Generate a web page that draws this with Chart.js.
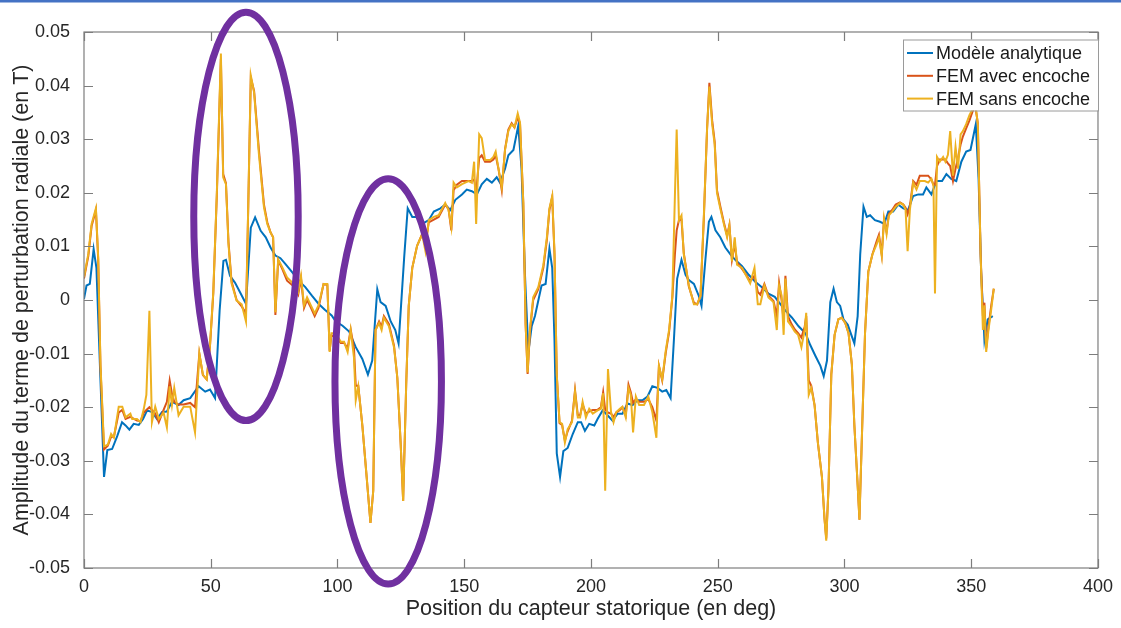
<!DOCTYPE html>
<html><head><meta charset="utf-8">
<script src="https://cdn.jsdelivr.net/npm/chart.js@4/dist/chart.umd.min.js"></script>
<style>html,body{margin:0;padding:0;background:#fff;}#wrap{width:1121px;height:628px;}</style>
</head><body><div id="wrap"><canvas id="c" width="1121" height="628"></canvas></div>
<script>
// ---------- data ----------
const seriesNames = ['Modèle analytique', 'FEM avec encoche', 'FEM sans encoche'];
const xTitle = 'Position du capteur statorique (en deg)';
const yTitle = 'Amplitude du terme de perturbation radiale (en T)';
const xTicks = [0, 50, 100, 150, 200, 250, 300, 350, 400];
const yTicks = [-0.05, -0.04, -0.03, -0.02, -0.01, 0, 0.01, 0.02, 0.03, 0.04, 0.05];
const yTickLabels = ['-0.05', '-0.04', '-0.03', '-0.02', '-0.01', '0', '0.01', '0.02', '0.03', '0.04', '0.05'];

const analytiqueDeg = [0, 1, 2.3, 3.8, 4.9, 6.5, 7.9, 9.2, 11.1, 13.1, 15, 16.4, 17.9, 19.6, 21.6, 23.3, 24.9, 26.8, 28.8, 30.8, 32.7, 34.7, 37.3, 39.3, 41.9, 45.2, 47.8, 49.7, 51.7, 53.5, 55, 56, 57.6, 59.6, 61.5, 63.9, 65.8, 67.5, 69.7, 71.7, 73.6, 75.5, 77.5, 79.5, 82.1, 84.7, 87.3, 89.9, 92.5, 95, 97.7, 99.3, 102, 104.6, 107.2, 109.8, 112, 113.7, 115.7, 117, 119, 121, 122.8, 124.1, 126.3, 127.7, 129.5, 131, 133.4, 136, 138, 140.6, 142.5, 144.5, 146.5, 149.1, 151, 153, 155, 156.9, 158.9, 160.9, 162.8, 164.1, 166.1, 167.4, 169.4, 171.3, 172.6, 173.9, 175.3, 176.6, 177.9, 180.5, 182.1, 183.6, 184.7, 185.6, 186.5, 187.8, 189.1, 190.8, 192.8, 194.8, 196.1, 197.6, 199.3, 201.3, 202.6, 204.6, 206.5, 208.5, 210.5, 212.4, 214.4, 216.4, 218.3, 220.3, 222.3, 224.2, 226.2, 228.1, 229.7, 231.4, 232.7, 234, 235.7, 237.3, 238.6, 240.6, 242.5, 243.6, 245.2, 246.5, 247.5, 249.1, 251, 253, 255, 256.9, 259.6, 262.2, 264.8, 267.4, 270, 272.5, 274.1, 276.7, 279.3, 281.9, 284.6, 286.5, 288.5, 290.5, 291.8, 293.1, 294.4, 295.7, 297, 298.3, 299.6, 301.3, 302.9, 303.9, 305.2, 306.2, 307.5, 308.8, 310.1, 312, 314, 315.7, 317.3, 319.2, 321.2, 323.2, 325.1, 327.1, 329.1, 331, 332.3, 334.3, 336.3, 338.5, 340.2, 342.1, 344.1, 346.1, 348, 349.7, 351.8, 352.9, 353.9, 355.2, 356.5, 358.5];
const analytiqueVal = [0.0002, 0.0027, 0.003, 0.0095, 0.006, -0.015, -0.033, -0.028, -0.0278, -0.0254, -0.0228, -0.0234, -0.0242, -0.0231, -0.0233, -0.0222, -0.0206, -0.0209, -0.0222, -0.0209, -0.0208, -0.019, -0.0196, -0.0187, -0.0183, -0.0161, -0.0171, -0.0167, -0.0183, -0.002, 0.0073, 0.0075, 0.0045, 0.0032, 0.0015, -0.0007, 0.0135, 0.0154, 0.0129, 0.0117, 0.0098, 0.0083, 0.0078, 0.0067, 0.0052, 0.0036, 0.0024, 0.0008, -0.0007, -0.0018, -0.0029, -0.004, -0.0048, -0.0059, -0.0088, -0.011, -0.0139, -0.0113, 0.002, -0.0004, -0.0011, -0.004, -0.0056, -0.0081, 0.0079, 0.0171, 0.0155, 0.0155, 0.0142, 0.0149, 0.0165, 0.0171, 0.0178, 0.0168, 0.0187, 0.0197, 0.0206, 0.0203, 0.0197, 0.0216, 0.0226, 0.0219, 0.0229, 0.0219, 0.0245, 0.027, 0.028, 0.0325, 0.0245, 0.0053, -0.0097, -0.0049, -0.003, 0.0027, 0.003, 0.0096, 0.006, -0.0075, -0.0286, -0.033, -0.0282, -0.0276, -0.025, -0.0228, -0.0228, -0.0244, -0.0231, -0.0234, -0.0222, -0.0206, -0.0215, -0.0225, -0.0212, -0.0212, -0.0193, -0.0196, -0.0187, -0.0187, -0.018, -0.0161, -0.0164, -0.0171, -0.0168, -0.0183, -0.0075, 0.004, 0.0075, 0.0047, 0.0037, 0.003, 0.0008, -0.0011, 0.0079, 0.0146, 0.0155, 0.013, 0.0117, 0.0098, 0.0085, 0.0075, 0.0063, 0.0047, 0.0034, 0.0024, 0.0012, 0.0006, -0.0004, -0.002, -0.0033, -0.0049, -0.0062, -0.0084, -0.0104, -0.0123, -0.0142, -0.0113, -0.0004, 0.0021, -0.0004, -0.0011, -0.0036, -0.0046, -0.0068, -0.0081, -0.003, 0.0085, 0.0174, 0.0155, 0.0158, 0.0149, 0.0146, 0.0142, 0.0165, 0.0165, 0.0178, 0.0171, 0.0168, 0.0194, 0.0197, 0.0197, 0.021, 0.0197, 0.0222, 0.0222, 0.0235, 0.0226, 0.0222, 0.0258, 0.0277, 0.028, 0.0328, 0.0226, 0.0053, -0.0075, -0.0036, -0.003];

const femDeg = [0, 1.7, 3.0, 3.7, 4.7, 5.6, 6.5, 7.9, 9.4, 10.7, 11.8, 13.7, 15.1, 16.4, 18.3, 19.0, 20.9, 22.3, 23.6, 24.6, 25.8, 26.8, 28.1, 29.5, 31.4, 32.7, 33.8, 34.7, 35.6, 37.3, 39.3, 41.9, 43.8, 45.5, 46.9, 48.4, 49.7, 51.0, 52.4, 54.0, 54.9, 56.0, 57.0, 58.2, 60.2, 62.2, 63.9, 64.8, 65.8, 67.1, 69.0, 71.0, 72.3, 73.6, 74.6, 75.5, 76.6, 78.2, 80.1, 82.1, 83.4, 84.5, 85.6, 86.8, 88.0, 89.5, 91.0, 92.5, 94.5, 96.0, 96.9, 97.6, 99.3, 101.3, 102.6, 104.0, 105.2, 106.5, 107.2, 108.2, 109.8, 111.5, 113.0, 114.1, 115.0, 116.4, 117.4, 118.3, 120.3, 122.3, 123.6, 124.9, 125.9, 127.1, 128.1, 129.5, 131.4, 133.4, 134.7, 136.0, 138.0, 139.9, 142.5, 143.8, 144.9, 145.8, 147.1, 149.1, 151.7, 153.0, 153.9, 154.7, 155.9, 156.9, 158.2, 160.2, 161.5, 162.4, 163.5, 164.8, 166.1, 167.4, 168.7, 169.8, 171.1, 172.0, 173.3, 174.2, 175.0, 175.9, 177.2, 179.2, 181.2, 182.6, 183.6, 184.7, 185.6, 186.5, 187.6, 188.6, 189.7, 190.8, 192.5, 193.7, 194.8, 195.7, 196.7, 198.0, 199.3, 200.7, 202.6, 203.9, 204.8, 205.6, 206.7, 207.9, 208.9, 210.0, 211.4, 212.4, 213.7, 214.8, 215.7, 216.6, 217.7, 219.0, 220.9, 222.6, 224.2, 225.8, 226.8, 228.1, 229.5, 230.8, 232.1, 233.1, 233.8, 234.7, 235.7, 236.6, 238.6, 240.6, 241.9, 243.2, 244.5, 245.8, 246.7, 247.8, 248.8, 249.7, 251.0, 252.4, 253.7, 254.6, 255.6, 256.7, 257.6, 259.6, 261.5, 262.8, 264.5, 265.8, 266.8, 268.4, 270.0, 272.0, 273.3, 274.2, 275.2, 276.0, 276.7, 277.7, 279.1, 280.4, 281.7, 283.0, 284.3, 284.9, 285.9, 286.9, 288.2, 289.5, 291.1, 292.1, 292.8, 293.7, 294.8, 296.1, 297.6, 298.9, 300.3, 301.6, 302.9, 303.9, 305.1, 305.9, 306.8, 308.1, 309.4, 311.0, 312.7, 313.6, 314.7, 315.6, 316.6, 317.5, 318.8, 320.2, 321.9, 323.2, 324.1, 324.9, 325.8, 327.1, 328.4, 329.7, 331.7, 333.0, 334.3, 335.1, 335.7, 336.5, 337.6, 338.9, 339.8, 340.8, 341.7, 342.8, 343.8, 344.8, 345.8, 346.7, 348.0, 349.3, 350.4, 351.5, 352.6, 353.7, 354.6, 355.2, 355.9, 356.8, 357.9, 358.9];
const femSansVal = [0.0043, 0.0086, 0.0142, 0.0154, 0.0171, 0.008, -0.012, -0.0273, -0.027, -0.025, -0.0257, -0.0199, -0.0199, -0.0219, -0.0212, -0.0222, -0.0222, -0.0228, -0.0203, -0.0177, -0.002, -0.0228, -0.0199, -0.0222, -0.021, -0.0238, -0.0161, -0.0196, -0.0164, -0.0215, -0.0199, -0.0199, -0.0247, -0.01, -0.0139, -0.0148, -0.0084, 0.0015, 0.02, 0.046, 0.0229, 0.0216, 0.0104, 0.0031, -0.0001, -0.0008, -0.004, 0.018, 0.0419, 0.0387, 0.0272, 0.0173, 0.0142, 0.0126, 0.0117, -0.0023, 0.0076, 0.0061, 0.0042, 0.0033, 0.0025, 0.0015, 0.0045, -0.001, 0.0005, -0.001, -0.0025, -0.001, 0.003, 0.003, -0.0097, -0.0062, -0.0062, -0.0078, -0.0078, -0.0097, -0.0056, -0.0107, -0.0187, -0.0161, -0.0234, -0.033, -0.0416, -0.0356, -0.0056, -0.0043, -0.0056, -0.0033, -0.0049, -0.0088, -0.0145, -0.0266, -0.0375, -0.0158, -0.0011, 0.006, 0.0101, 0.0123, 0.0091, 0.0149, 0.0155, 0.0158, 0.0181, 0.0168, 0.0136, 0.0219, 0.021, 0.0216, 0.0222, 0.0219, 0.0258, 0.0142, 0.0309, 0.0302, 0.0261, 0.0261, 0.0267, 0.0277, 0.0245, 0.021, 0.028, 0.0315, 0.0328, 0.0322, 0.0348, 0.0331, 0.0181, -0.0043, -0.0135, -0.0056, 0.0005, 0.0024, 0.0065, 0.0117, 0.0171, 0.0194, 0.009, -0.0139, -0.0228, -0.0231, -0.0266, -0.0241, -0.0228, -0.0171, -0.0219, -0.0219, -0.019, -0.0219, -0.0203, -0.0212, -0.0206, -0.0203, -0.0174, -0.0356, -0.0129, -0.0209, -0.0228, -0.0209, -0.0203, -0.0199, -0.0219, -0.0164, -0.0177, -0.0247, -0.018, -0.0196, -0.0196, -0.018, -0.0209, -0.0257, -0.0123, -0.0148, -0.0094, -0.0056, 0.0008, 0.0194, 0.0318, 0.0149, 0.0158, 0.0085, 0.0027, -0.0008, -0.0008, 0.0008, 0.0155, 0.0321, 0.0398, 0.0328, 0.029, 0.02, 0.0171, 0.0142, 0.0117, 0.0139, 0.0072, 0.0117, 0.0066, 0.006, 0.0043, 0.0031, 0.006, -0.0008, -0.0008, 0.0027, 0.0005, -0.0004, -0.0056, 0.0027, 0.0008, -0.0065, 0.004, -0.004, -0.0049, -0.0059, -0.0065, -0.0088, -0.0056, -0.0024, -0.0177, -0.0164, -0.0196, -0.0266, -0.033, -0.0407, -0.0449, -0.035, -0.0139, -0.0065, -0.0036, -0.0033, -0.0043, -0.0062, -0.012, -0.0234, -0.0337, -0.041, -0.0266, -0.0062, 0.0053, 0.0085, 0.0104, 0.0117, 0.0082, 0.0152, 0.0123, 0.0158, 0.0165, 0.0174, 0.0181, 0.0178, 0.0168, 0.0091, 0.0168, 0.0219, 0.0206, 0.0222, 0.0222, 0.0219, 0.0226, 0.0213, 0.0012, 0.0267, 0.0258, 0.0267, 0.0258, 0.0271, 0.0315, 0.0232, 0.0286, 0.0245, 0.0309, 0.0315, 0.0328, 0.0345, 0.0355, 0.037, 0.0328, 0.0085, -0.0056, -0.001, -0.0097, -0.0056, -0.0017, 0.0021];
const femAvecVal = [0.004, 0.0082, 0.0138, 0.015, 0.0168, 0.0075, -0.0125, -0.0279, -0.0272, -0.0255, -0.0255, -0.021, -0.0205, -0.0222, -0.0218, -0.022, -0.0225, -0.0226, -0.021, -0.0205, -0.02, -0.0205, -0.0212, -0.0228, -0.0205, -0.019, -0.015, -0.0175, -0.019, -0.0195, -0.0195, -0.0192, -0.02, -0.01, -0.014, -0.0148, -0.0086, 0.0012, 0.0195, 0.045, 0.0235, 0.0218, 0.0108, 0.0035, 0, -0.0012, -0.0025, 0.0175, 0.0415, 0.039, 0.028, 0.0178, 0.0145, 0.0126, 0.0117, -0.0028, 0.0074, 0.0058, 0.0036, 0.0028, 0.002, 0.001, 0.004, -0.0015, 0, -0.0014, -0.003, -0.0015, 0.003, 0.0028, -0.0095, -0.0066, -0.0068, -0.008, -0.008, -0.009, -0.0055, -0.009, -0.016, -0.016, -0.0234, -0.033, -0.0416, -0.0356, -0.0056, -0.004, -0.005, -0.003, -0.0045, -0.0085, -0.0145, -0.0266, -0.0375, -0.0158, -0.0011, 0.006, 0.0101, 0.0123, 0.0105, 0.0145, 0.015, 0.0155, 0.0178, 0.017, 0.013, 0.0205, 0.0215, 0.0222, 0.0222, 0.0222, 0.0225, 0.02, 0.0265, 0.027, 0.0258, 0.0258, 0.0262, 0.027, 0.0245, 0.0205, 0.0282, 0.0318, 0.033, 0.0322, 0.034, 0.033, 0.0181, -0.0045, -0.0138, -0.006, 0, 0.002, 0.006, 0.0112, 0.0168, 0.0192, 0.0085, -0.014, -0.023, -0.0233, -0.0262, -0.0245, -0.0225, -0.0168, -0.0215, -0.0215, -0.0195, -0.0212, -0.0208, -0.0205, -0.0205, -0.02, -0.0172, -0.0205, -0.021, -0.0212, -0.0218, -0.021, -0.0205, -0.02, -0.0215, -0.0158, -0.0172, -0.0192, -0.0185, -0.019, -0.019, -0.0185, -0.02, -0.0225, -0.0123, -0.015, -0.0098, -0.006, 0.0005, 0.0085, 0.013, 0.0149, 0.015, 0.0088, 0.0025, -0.0005, -0.0008, 0.0008, 0.015, 0.032, 0.0405, 0.0335, 0.0295, 0.0205, 0.0175, 0.0145, 0.012, 0.014, 0.0075, 0.0105, 0.007, 0.0058, 0.0045, 0.0035, 0.0045, 0.0015, 0.001, 0.003, 0.0008, -0.0002, -0.003, 0.0032, 0, -0.004, 0.0045, -0.003, -0.0045, -0.0055, -0.0062, -0.007, -0.005, -0.003, -0.015, -0.016, -0.0196, -0.0266, -0.033, -0.0407, -0.0445, -0.035, -0.0139, -0.0065, -0.0036, -0.0033, -0.0043, -0.0062, -0.012, -0.0234, -0.0337, -0.041, -0.0266, -0.0062, 0.0053, 0.0085, 0.011, 0.0122, 0.0085, 0.015, 0.0128, 0.016, 0.0168, 0.0178, 0.0182, 0.0178, 0.0172, 0.016, 0.0175, 0.0222, 0.0215, 0.0232, 0.0232, 0.0232, 0.0225, 0.0215, 0.0215, 0.025, 0.0262, 0.0262, 0.0262, 0.0255, 0.025, 0.0222, 0.0245, 0.0265, 0.029, 0.0305, 0.032, 0.0335, 0.035, 0.0365, 0.033, 0.0085, -0.003, -0.0005, -0.009, -0.005, -0.001, 0.0021];

// annotation ellipses (data units): centre deg, centre value, half-width deg, half-height value
const ellipseCx = [63.9, 120.0];
const ellipseCy = [0.0156, -0.0152];
const ellipseRx = [20.6, 21.0];
const ellipseRy = [0.0381, 0.0378];

// ---------- chart ----------
const FONT = "'Liberation Sans', Arial, Helvetica, sans-serif";
const COLORS = ['#0072BD', '#D95319', '#EDB120'];
const toPts = (xs, ys) => xs.map((x, i) => ({ x: x, y: ys[i] }));
console.log(femDeg.length, femSansVal.length, femAvecVal.length, analytiqueDeg.length, analytiqueVal.length);

const framePlugin = {
  id: 'matlabFrame',
  afterDatasetsDraw(chart) {
    const ctx = chart.ctx, a = chart.chartArea;
    const xs = chart.scales.x, ys = chart.scales.y;
    const L = 9;
    ctx.save();
    ctx.strokeStyle = '#7d7d7d';
    ctx.lineWidth = 1.2;
    ctx.strokeRect(a.left, a.top, a.right - a.left, a.bottom - a.top);
    ctx.beginPath();
    xTicks.forEach(v => {
      const p = Math.round(xs.getPixelForValue(v)) + 0.5;
      ctx.moveTo(p, a.bottom); ctx.lineTo(p, a.bottom - L);
      ctx.moveTo(p, a.top); ctx.lineTo(p, a.top + L);
    });
    yTicks.forEach(v => {
      const p = Math.round(ys.getPixelForValue(v)) + 0.5;
      ctx.moveTo(a.left, p); ctx.lineTo(a.left + L, p);
      ctx.moveTo(a.right, p); ctx.lineTo(a.right - L, p);
    });
    ctx.stroke();

    // legend (MATLAB style, inside north-east)
    const bx = a.left + 819, by = a.top + 7.5, bw = 195, bh = 71;
    ctx.fillStyle = '#ffffff';
    ctx.fillRect(bx, by, bw, bh);
    ctx.strokeStyle = '#9a9a9a';
    ctx.lineWidth = 1;
    ctx.strokeRect(bx + 0.5, by + 0.5, bw, bh);
    ctx.font = '18px ' + FONT;
    ctx.textBaseline = 'middle';
    ctx.textAlign = 'left';
    chart.data.datasets.forEach((ds, i) => {
      const yy = by + 13.5 + i * 22.8;
      ctx.strokeStyle = ds.borderColor;
      ctx.lineWidth = 2;
      ctx.beginPath();
      ctx.moveTo(bx + 4, yy); ctx.lineTo(bx + 30, yy);
      ctx.stroke();
      ctx.fillStyle = '#1a1a1a';
      ctx.fillText(ds.label, bx + 33, yy + 1);
    });
    ctx.restore();
  },
  afterDraw(chart) {
    const ctx = chart.ctx;
    const xs = chart.scales.x, ys = chart.scales.y;
    ctx.save();
    // annotation ellipses
    ctx.strokeStyle = '#7030A0';
    ctx.lineWidth = 7;
    ellipseCx.forEach((cx, i) => {
      const px = xs.getPixelForValue(cx), py = ys.getPixelForValue(ellipseCy[i]);
      const rx = xs.getPixelForValue(cx + ellipseRx[i]) - px;
      const ry = ys.getPixelForValue(ellipseCy[i] - ellipseRy[i]) - py;
      ctx.beginPath();
      ctx.ellipse(px, py, rx, ry, 0, 0, Math.PI * 2);
      ctx.stroke();
    });
    // slide border at top
    ctx.fillStyle = '#4472C4';
    ctx.fillRect(0, 0, chart.width, 2.5);
    ctx.restore();
  }
};

new Chart(document.getElementById('c'), {
  type: 'scatter',
  data: {
    datasets: [
      { label: seriesNames[0], data: toPts(analytiqueDeg, analytiqueVal), borderColor: COLORS[0], order: 3 },
      { label: seriesNames[1], data: toPts(femDeg, femAvecVal), borderColor: COLORS[1], order: 2 },
      { label: seriesNames[2], data: toPts(femDeg, femSansVal), borderColor: COLORS[2], order: 1 }
    ].map(d => Object.assign(d, { showLine: true, borderWidth: 2, pointRadius: 0, tension: 0, fill: false, backgroundColor: d.borderColor }))
  },
  options: {
    responsive: false,
    animation: false,
    layout: { padding: { left: 0, top: 32, right: 18, bottom: 0 } },
    plugins: { legend: { display: false }, tooltip: { enabled: false } },
    scales: {
      x: {
        type: 'linear', min: 0, max: 400,
        afterBuildTicks: s => { s.ticks = xTicks.map(v => ({ value: v })); },
        afterFit: s => { s.height = 60; },
        grid: { display: false, drawTicks: false },
        border: { display: false },
        ticks: { padding: 8, color: '#262626', font: { size: 18, family: FONT }, maxRotation: 0, autoSkip: false },
        title: { display: true, text: xTitle, color: '#262626', font: { size: 21.5, family: FONT }, padding: { top: 0, bottom: 6 } }
      },
      y: {
        type: 'linear', min: -0.05, max: 0.05,
        afterBuildTicks: s => { s.ticks = yTicks.map(v => ({ value: v })); },
        afterFit: s => { s.width = 84; },
        grid: { display: false, drawTicks: false },
        border: { display: false },
        ticks: { padding: 14, color: '#262626', font: { size: 18, family: FONT }, autoSkip: false,
                 callback: v => yTickLabels[yTicks.indexOf(v)] },
        title: { display: true, text: yTitle, color: '#262626', font: { size: 21.5, family: FONT }, padding: { top: 9, bottom: 0 } }
      }
    }
  },
  plugins: [framePlugin]
});
</script></body></html>
